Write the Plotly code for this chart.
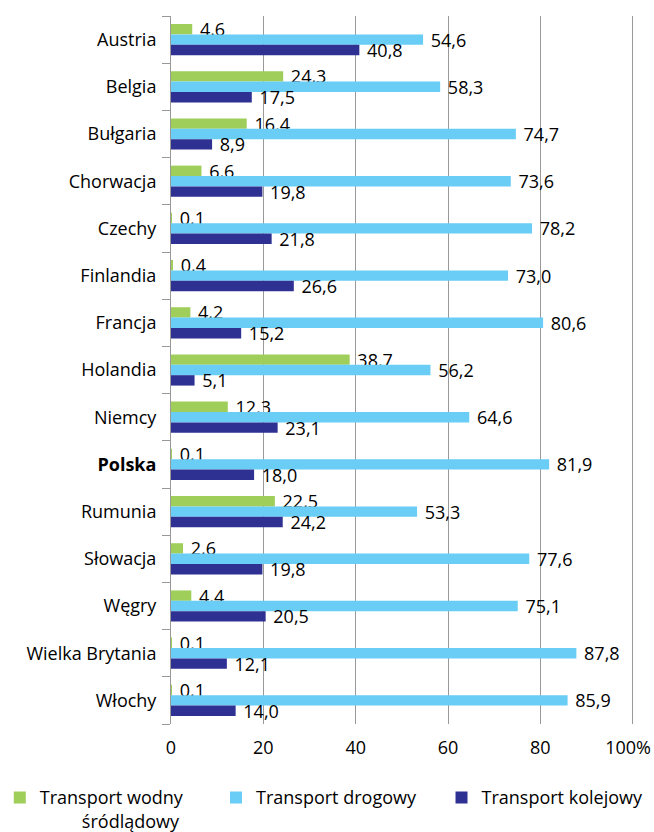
import plotly.graph_objects as go

countries = ["Austria", "Belgia", "Bułgaria", "Chorwacja", "Czechy", "Finlandia", "Francja",
             "Holandia", "Niemcy", "Polska", "Rumunia", "Słowacja", "Węgry", "Wielka Brytania", "Włochy"]
country_labels = ["Austria", "Belgia", "Bułgaria", "Chorwacja", "Czechy", "Finlandia", "Francja",
                  "Holandia", "Niemcy", "<b>Polska</b>", "Rumunia", "Słowacja", "Węgry", "Wielka Brytania", "Włochy"]
wodny = [4.6, 24.3, 16.4, 6.6, 0.1, 0.4, 4.2, 38.7, 12.3, 0.1, 22.5, 2.6, 4.4, 0.1, 0.1]
drogowy = [54.6, 58.3, 74.7, 73.6, 78.2, 73.0, 80.6, 56.2, 64.6, 81.9, 53.3, 77.6, 75.1, 87.8, 85.9]
kolejowy = [40.8, 17.5, 8.9, 19.8, 21.8, 26.6, 15.2, 5.1, 23.1, 18.0, 24.2, 19.8, 20.5, 12.1, 14.0]
x_tickvals = [0, 20, 40, 60, 80, 100]
x_ticktext = ["0", "20", "40", "60", "80", "100%\u00a0\u00a0"]

FONT = "Open Sans"
FS = 18
nb = "\u00a0"

series = [
    ("Transport wodny<br>" + nb * 9 + "śródlądowy", wodny, "#9FCE5B", "legend", -0.369),
    ("Transport drogowy", drogowy, "#69CDF5", "legend2", 0.097),
    ("Transport kolejowy", kolejowy, "#2E3192", "legend3", 0.583),
]

fig = go.Figure()
for name, vals, col, lg, _ in series:
    fig.add_trace(go.Bar(
        y=countries, x=vals, name=name, orientation="h", legend=lg,
        marker=dict(color=col, line=dict(width=0)),
        text=[nb + f"{v:.1f}".replace(".", ",") for v in vals],
        textposition="outside", constraintext="none", cliponaxis=False,
        textfont=dict(family=FONT, size=FS, color="#000000"),
        hoverinfo="skip",
    ))

legend_common = dict(orientation="h", xanchor="left", y=-0.078, yanchor="top",
                     valign="top", font=dict(family=FONT, size=FS),
                     itemclick=False, itemdoubleclick=False, bgcolor="rgba(0,0,0,0)")

fig.update_layout(
    width=654, height=832,
    margin=dict(l=171, r=19, t=16, b=108, autoexpand=False),
    paper_bgcolor="white", plot_bgcolor="white",
    barmode="group", bargap=0.34, bargroupgap=0,
    font=dict(family=FONT, size=FS, color="#000000"),
    showlegend=True,
    legend=dict(x=series[0][4], **legend_common),
    legend2=dict(x=series[1][4], **legend_common),
    legend3=dict(x=series[2][4], **legend_common),
    xaxis=dict(range=[0, 100.5], tickvals=x_tickvals, ticktext=x_ticktext,
               showgrid=True, gridcolor="#999999", gridwidth=1,
               zeroline=False, showline=False, ticks="",
               ticklabeloverflow="allow",
               tickfont=dict(family=FONT, size=FS), ticklabelstandoff=11, fixedrange=True),
    yaxis=dict(categoryorder="array", categoryarray=countries, autorange="reversed",
               tickvals=countries, ticktext=country_labels,
               showgrid=False, showline=True, linecolor="#999999", linewidth=1,
               ticks="outside", tickson="boundaries", ticklen=8, tickcolor="#999999",
               tickfont=dict(family=FONT, size=FS), ticklabelstandoff=10, fixedrange=True),
)

fig.write_html(
    "out.html",
    config={"displayModeBar": False},
    post_script="document.body.style.margin='0';document.body.style.overflow='hidden';",
)
